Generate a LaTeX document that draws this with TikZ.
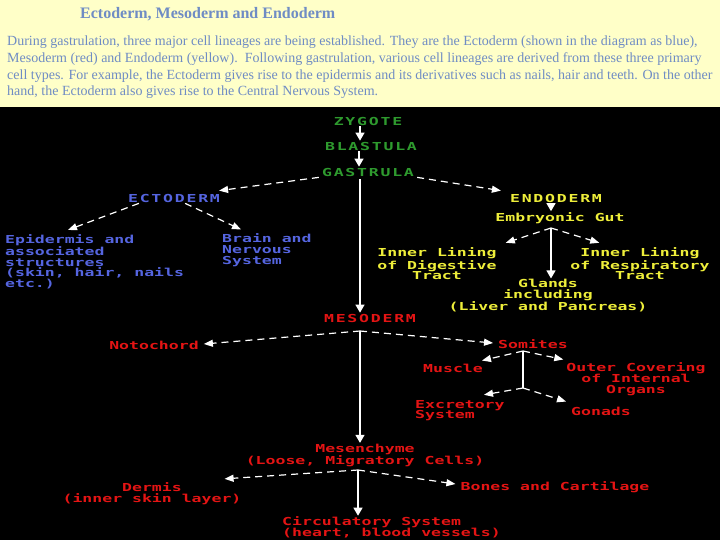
\documentclass[tikz,border=0pt]{standalone}
\usepackage{fontspec}
\setmainfont{Liberation Serif}
\newfontfamily\pix[FakeStretch=1.5]{DejaVu Sans Mono}
\newfontfamily\pixcaps[FakeStretch=1.5,LetterSpace=16]{DejaVu Sans Mono}
\usetikzlibrary{arrows.meta,calc}
\definecolor{hdrbg}{HTML}{FFFFC8}
\definecolor{hdrtx}{HTML}{6F8CC4}
\definecolor{cgreen}{HTML}{2E9A2E}
\definecolor{cblue}{HTML}{5565E0}
\definecolor{cyellow}{HTML}{EEEE3A}
\definecolor{cred}{HTML}{E41414}
\tikzset{
  lbl/.style={font=\pix\bfseries\fontsize{11}{10.7}\selectfont, inner sep=1pt, align=center},
  caps/.style={font=\pixcaps\bfseries\fontsize{11}{10.7}\selectfont, inner sep=1pt, align=center},
  hdr/.style={font=\fontsize{14}{14}\selectfont, text=hdrtx, anchor=west, inner sep=0pt},
  sarrow/.style={draw=white, line width=1.2pt, -{Triangle[length=8pt,width=9pt]}},
  darrow/.style={draw=white, line width=1.2pt, dash pattern=on 7pt off 5pt, -{Triangle[length=9pt,width=7pt]}},
  sline/.style={draw=white, line width=1.2pt}
}
\begin{document}
\begin{tikzpicture}[x=1pt,y=-1pt]
\fill[black] (0,0) rectangle (720,540);
\fill[hdrbg] (0,0) rectangle (720,107);
\useasboundingbox (0,0) rectangle (720,540);
% header
\node[hdr, font=\bfseries\fontsize{16}{16}\selectfont] (title) at (80,14) {Ectoderm, Mesoderm and Endoderm};
\node[hdr] (l1) at (7,42) {During gastrulation, three major cell lineages are being established. They are the Ectoderm (shown in the diagram as blue),};
\node[hdr] (l2) at (7,59) {Mesoderm (red) and Endoderm (yellow).\ \ Following gastrulation, various cell lineages are derived from these three primary};
\node[hdr] (l3) at (7,76) {cell types. For example, the Ectoderm gives rise to the epidermis and its derivatives such as nails, hair and teeth. On the other};
\node[hdr] (l4) at (7,92) {hand, the Ectoderm also gives rise to the Central Nervous System.};
% top chain
\node[caps, text=cgreen] (zyg) at (368,121) {ZYGOTE};
\node[caps, text=cgreen] (bla) at (371,146) {BLASTULA};
\node[caps, text=cgreen] (gas) at (368,172) {GASTRULA};
% ectoderm
\node[caps, text=cblue] (ecto) at (174,198) {ECTODERM};
\node[lbl, text=cblue, align=left, anchor=west] (epi) at (4,261.5) {Epidermis and\\associated\\structures\\(skin, hair, nails\\etc.)};
\node[lbl, text=cblue, align=left, anchor=west] (brain) at (221,250) {Brain and\\Nervous\\System};
% endoderm
\node[caps, text=cyellow] (endo) at (556,198) {ENDODERM};
\node[lbl, text=cyellow] (gut) at (560,218) {Embryonic Gut};
\node[lbl, text=cyellow] (dig) at (437,264) {Inner Lining\\of Digestive\\Tract};
\node[lbl, text=cyellow] (resp) at (640,264) {Inner Lining\\of Respiratory\\Tract};
\node[lbl, text=cyellow] (gla) at (548,296) {Glands\\including\\(Liver and Pancreas)};
% mesoderm
\node[caps, text=cred] (meso) at (370,318) {MESODERM};
\node[lbl, text=cred] (noto) at (154,345) {Notochord};
\node[lbl, text=cred] (som) at (533,344) {Somites};
\node[lbl, text=cred] (mus) at (453,368) {Muscle};
\node[lbl, text=cred] (outer) at (636,379) {Outer Covering\\of Internal\\Organs};
\node[lbl, text=cred, align=left, anchor=west] (exc) at (414,410.5) {Excretory\\System};
\node[lbl, text=cred] (gon) at (601,411) {Gonads};
\node[lbl, text=cred] (mes) at (365,455.5) {Mesenchyme\\(Loose, Migratory Cells)};
\node[lbl, text=cred] (derm) at (152,494) {Dermis\\(inner skin layer)};
\node[lbl, text=cred] (bones) at (555,487) {Bones and Cartilage};
\node[lbl, text=cred, align=left, anchor=west] (circ) at (281,527.5) {Circulatory System\\(heart, blood vessels)};
% junctions
\coordinate (gj) at (360,179);
\coordinate (mj) at (360,331);
\coordinate (sj) at (523,351);
\coordinate (sj2) at (523,388);
\coordinate (ej) at (551,228);
\coordinate (xj) at (358,470);
% connectors
\draw[sarrow] (zyg.south -| 360,0) -- (bla.north -| 360,0);
\draw[sarrow] (bla.south -| 359,0) -- (gas.north -| 359,0);
\draw[darrow] ($(gas.south west)+(-2,0)$) -- ($(ecto.north east)+(-2,-2)$);
\draw[darrow] ($(gas.south east)+(2,0)$) -- ($(endo.north west)+(-8,-2)$);
\draw[sarrow] (gj) -- (gj |- meso.north);
\draw[darrow] ($(ecto.south west)+(12,0)$) -- ($(epi.north west)+(64,-3)$);
\draw[darrow] ($(ecto.south east)+(-36,0)$) -- ($(brain.north west)+(20,-3)$);
\draw[sarrow] (endo.south -| 551,0) -- (gut.north -| 551,0);
\draw[darrow] (ej) -- ($(dig.north east)+(8,-4)$);
\draw[darrow] (ej) -- ($(resp.north west)+(30,-4)$);
\draw[sarrow] (ej) -- (ej |- gla.north);
\draw[darrow] (mj) -- ($(noto.east)+(4,-1)$);
\draw[darrow] (mj) -- ($(som.west)+(-4,-1)$);
\draw[sarrow] (mj) -- (mj |- mes.north);
\draw[darrow] (sj) -- ($(mus.north east)+(-2,-2)$);
\draw[darrow] (sj) -- ($(outer.north west)+(-2,-2)$);
\draw[sline] (sj) -- (sj2);
\draw[darrow] (sj2) -- ($(exc.north west)+(70,-4)$);
\draw[darrow] (sj2) -- ($(gon.north west)+(-4,-4)$);
\draw[darrow] (xj) -- ($(derm.north east)+(-18,-3)$);
\draw[darrow] (xj) -- ($(bones.west)+(-4,-3)$);
\draw[sarrow] (xj) -- (xj |- circ.north);
\end{tikzpicture}
\end{document}
